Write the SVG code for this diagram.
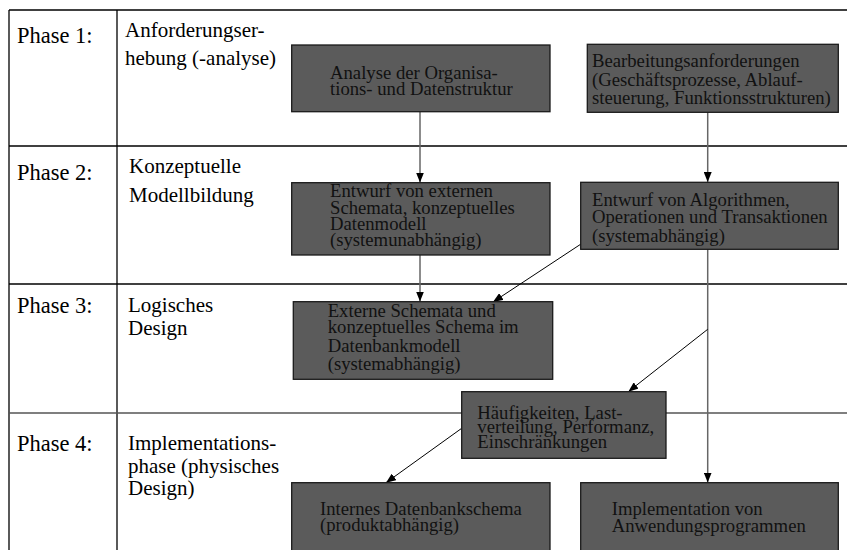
<svg xmlns="http://www.w3.org/2000/svg" width="847" height="550" viewBox="0 0 847 550">
<style>
.frame{stroke:#000;stroke-width:1.3;fill:none}
.box{fill:#5b5b5b;stroke:#1a1a1a;stroke-width:1.3}
.bt{font-family:"Liberation Serif","Times New Roman",serif;font-size:18.7px;fill:#111}
.pl{font-family:"Liberation Serif","Times New Roman",serif;font-size:22.5px;fill:#000}
.pd{font-family:"Liberation Serif","Times New Roman",serif;font-size:21px;fill:#000}
.vc{stroke:#666;stroke-width:1.5;fill:none}
.dc{stroke:#000;stroke-width:1;fill:none}
</style>
<defs>
<marker id="ah" viewBox="0 0 10 8" markerWidth="10" markerHeight="8" refX="10" refY="4" orient="auto" markerUnits="userSpaceOnUse">
<path d="M0,0 L10,4 L0,8 z" fill="#000"/>
</marker>
</defs>
<rect width="847" height="550" fill="#fff"/>
<g id="grid">
<line class="frame" x1="9" y1="10" x2="847" y2="10"/>
<line class="frame" x1="9" y1="10" x2="9" y2="550"/>
<line class="frame" x1="117" y1="10" x2="117" y2="550"/>
<line class="frame" x1="9" y1="146" x2="847" y2="146"/>
<line class="frame" x1="9" y1="284" x2="847" y2="284"/>
<line class="frame" x1="9" y1="413" x2="847" y2="413" style="stroke:#555"/>
</g>
<g id="phase1">
<text class="pl" x="17" y="43">Phase 1:</text>
<text class="pd" x="125" y="37">Anforderungser-</text>
<text class="pd" x="125" y="65">hebung (-analyse)</text>
</g>
<g id="phase2">
<text class="pl" x="17" y="180">Phase 2:</text>
<text class="pd" x="129" y="173">Konzeptuelle</text>
<text class="pd" x="129" y="201.5">Modellbildung</text>
</g>
<g id="phase3">
<text class="pl" x="17" y="313">Phase 3:</text>
<text class="pd" x="128" y="312">Logisches</text>
<text class="pd" x="128" y="335">Design</text>
</g>
<g id="phase4">
<text class="pl" x="17" y="450.5">Phase 4:</text>
<text class="pd" x="128" y="450">Implementations-</text>
<text class="pd" x="128" y="472.5">phase (physisches</text>
<text class="pd" x="128" y="495">Design)</text>
</g>
<g id="connectors">
<line class="vc" x1="420" y1="112" x2="420" y2="182.5" marker-end="url(#ah)"/>
<line class="vc" x1="420" y1="255" x2="420" y2="301.5" marker-end="url(#ah)"/>
<line class="vc" x1="707.7" y1="112" x2="707.7" y2="182" marker-end="url(#ah)"/>
<line class="vc" x1="707.7" y1="249" x2="707.7" y2="482.5" marker-end="url(#ah)"/>
<line class="dc" x1="581" y1="244" x2="493" y2="302" marker-end="url(#ah)"/>
<line class="dc" x1="707.7" y1="329.3" x2="628.3" y2="391.7" marker-end="url(#ah)"/>
<line class="dc" x1="461.7" y1="428.3" x2="386" y2="482.7" marker-end="url(#ah)"/>
</g>
<g id="n1">
<rect class="box" x="291.7" y="45" width="258.3" height="66.7"/>
<text class="bt" x="330" y="79">Analyse der Organisa-</text>
<text class="bt" x="330" y="94.5">tions- und Datenstruktur</text>
</g>
<g id="n2">
<rect class="box" x="587.3" y="44.3" width="251" height="68"/>
<text class="bt" x="592" y="66.7">Bearbeitungsanforderungen</text>
<text class="bt" x="592" y="85.5">(Geschäftsprozesse, Ablauf-</text>
<text class="bt" x="592" y="103.5">steuerung, Funktionsstrukturen)</text>
</g>
<g id="n3">
<rect class="box" x="291.7" y="182.7" width="258.3" height="72.3"/>
<text class="bt" x="330" y="197.3">Entwurf von externen</text>
<text class="bt" x="330" y="214">Schemata, konzeptuelles</text>
<text class="bt" x="330" y="230">Datenmodell</text>
<text class="bt" x="330" y="246">(systemunabhängig)</text>
</g>
<g id="n4">
<rect class="box" x="580.7" y="182.3" width="257.6" height="67"/>
<text class="bt" x="592" y="205.7">Entwurf von Algorithmen,</text>
<text class="bt" x="592" y="223.3">Operationen und Transaktionen</text>
<text class="bt" x="592" y="241.7">(systemabhängig)</text>
</g>
<g id="n5">
<rect class="box" x="293.3" y="301.7" width="259.4" height="77.6"/>
<text class="bt" x="327.7" y="316.7">Externe Schemata und</text>
<text class="bt" x="327.7" y="333.3">konzeptuelles Schema im</text>
<text class="bt" x="327.7" y="352.3">Datenbankmodell</text>
<text class="bt" x="327.7" y="370">(systemabhängig)</text>
</g>
<g id="n6">
<rect class="box" x="461.7" y="391.7" width="204.3" height="66.6"/>
<text class="bt" x="477.3" y="419.3">Häufigkeiten, Last-</text>
<text class="bt" x="477.3" y="433.3">verteilung, Performanz,</text>
<text class="bt" x="477.3" y="448.3">Einschränkungen</text>
</g>
<g id="n7">
<rect class="box" x="291.7" y="482.7" width="258.3" height="70"/>
<text class="bt" x="320" y="515">Internes Datenbankschema</text>
<text class="bt" x="320" y="530.7">(produktabhängig)</text>
</g>
<g id="n8">
<rect class="box" x="580.7" y="482.7" width="257.6" height="70"/>
<text class="bt" x="611.7" y="515">Implementation von</text>
<text class="bt" x="611.7" y="531.7">Anwendungsprogrammen</text>
</g>
</svg>
